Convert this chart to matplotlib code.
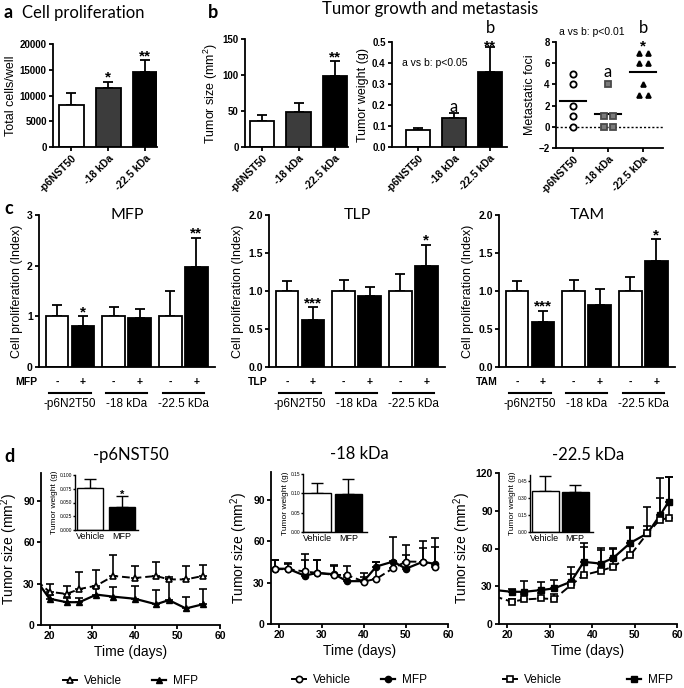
import numpy as np
import matplotlib.pyplot as plt
from matplotlib.transforms import blended_transform_factory
from matplotlib.lines import Line2D

plt.rcParams['font.family'] = ['Liberation Sans', 'DejaVu Sans']
plt.rcParams['mathtext.fontset'] = 'custom'
plt.rcParams['mathtext.rm'] = 'Liberation Sans'
plt.rcParams['mathtext.it'] = 'Liberation Sans:italic'

W, H = 684, 688
TITLE_FONT = ['Lato', 'DejaVu Sans']

# ---- panel a / b data ----
groups_ab = ['-p6NST50', '-18 kDa', '-22.5 kDa']
bar_colors = ['white', '#3c3c3c', 'black']
a_cells = [8100, 11400, 14500]
a_cells_err = [2400, 1300, 2300]
a_stars = ['', '*', '**']

b_size = [36, 48, 99]
b_size_err = [8, 13, 20]
b_weight = [0.08, 0.14, 0.357]
b_weight_err = [0.012, 0.022, 0.12]
foci_ctrl = [0, 1, 2, 4, 5]
foci_18 = [0, 0, 1, 1, 4]
foci_225 = [3, 3, 4, 6, 6, 7, 7]

# ---- panel c data ----
c_groups = ['-p6N2T50', '-18 kDa', '-22.5 kDa']
c_mfp = [1.0, 0.80, 1.0, 0.96, 1.0, 1.98]
c_mfp_err = [0.23, 0.20, 0.18, 0.19, 0.50, 0.57]
c_mfp_stars = ['', '*', '', '', '', '**']
c_tlp = [1.0, 0.62, 1.0, 0.93, 1.0, 1.33]
c_tlp_err = [0.13, 0.17, 0.14, 0.12, 0.23, 0.28]
c_tlp_stars = ['', '***', '', '', '', '*']
c_tam = [1.0, 0.59, 1.0, 0.82, 1.0, 1.40]
c_tam_err = [0.13, 0.15, 0.14, 0.20, 0.18, 0.28]
c_tam_stars = ['', '***', '', '', '', '*']

# ---- panel d data ----
d1_days = [17, 20, 24, 27, 31, 35, 40, 45, 48, 52, 56]
d1_veh = [32, 24, 22.5, 26, 28.5, 35.5, 34, 35.5, 33, 33, 35.5]
d1_veh_err = [0, 6, 6, 12, 11.5, 15.5, 9, 10, 2, 10, 8]
d1_mfp = [32, 19, 16.5, 16.5, 22, 20.5, 19, 15, 18, 12, 15]
d1_mfp_err = [0, 3, 3, 3, 5, 7, 9, 10, 15, 8.5, 11]

d2_days = [19, 22, 26, 29, 33, 36, 40, 43, 47, 50, 54, 57]
d2_veh = [39.7, 39.7, 38, 37, 35.5, 35.5, 30.7, 32.7, 40.4, 45.2, 45, 41.6]
d2_veh_err = [6.5, 4, 8, 9, 6.5, 6.5, 3, 12, 5, 5, 10, 14]
d2_mfp = [40, 40, 35, 37, 36, 31, 31, 41.6, 45.2, 40, 45, 43.5]
d2_mfp_err = [6, 4, 15.5, 9, 7, 3, 6, 3.5, 18, 17, 15, 19]

d3_days = [17, 21, 24, 28, 31, 35, 38, 42, 45, 49, 53, 56, 58]
d3_veh = [22, 17.7, 19.5, 20.3, 19.8, 31, 38.9, 42.3, 45.5, 54.7, 72, 83, 84]
d3_veh_err = [0, 2, 4, 4, 4, 9, 22, 18, 14.5, 22, 6, 17, 33]
d3_mfp = [27, 25.6, 25.6, 27, 28.3, 33.6, 49.4, 48, 52.6, 64.5, 72, 86.4, 97]
d3_mfp_err = [0, 2, 8.5, 6, 6.5, 12, 15, 11, 8, 12, 21, 30, 20]

inset_labels = ['Vehicle', 'MFP']
d1_weight = [0.077, 0.041]
d1_weight_err = [0.015, 0.02]
d2_weight = [0.10, 0.098]
d2_weight_err = [0.027, 0.04]
d3_weight = [0.36, 0.35]
d3_weight_err = [0.13, 0.065]

fig = plt.figure(figsize=(W / 100, H / 100), dpi=100)


def px_axes(x0, y0, x1, y1):
    return fig.add_axes([x0 / W, 1 - y1 / H, (x1 - x0) / W, (y1 - y0) / H])


def style(ax, size=7, lw=1.3, tick=3):
    ax.spines['top'].set_visible(False)
    ax.spines['right'].set_visible(False)
    ax.spines['left'].set_linewidth(lw)
    ax.spines['bottom'].set_linewidth(lw)
    ax.tick_params(direction='out', length=tick, width=lw, labelsize=size, pad=1.5)


def bold_ticks(ax):
    for t in ax.get_xticklabels() + ax.get_yticklabels():
        t.set_fontweight('bold')


def bars(ax, x, vals, errs, colors, width, lw=1.3, cap=3.5):
    ax.bar(x, vals, width=width, color=colors, edgecolor='black', linewidth=lw, zorder=2)
    ax.errorbar(x, vals, yerr=[np.zeros(len(vals)), errs], fmt='none', ecolor='black',
                elinewidth=lw, capsize=cap, capthick=lw, zorder=1)


def ftext(x, y, s, **kw):
    fig.text(x / W, 1 - y / H, s, **kw)


# panel letters and titles
ftext(4, 13, 'a', fontsize=13, fontweight='bold', family=TITLE_FONT, va='center')
ftext(22, 13, 'Cell proliferation', fontsize=12, family=TITLE_FONT, va='center')
ftext(208, 13, 'b', fontsize=13, fontweight='bold', family=TITLE_FONT, va='center')
ftext(430, 9, 'Tumor growth and metastasis', fontsize=12, family=TITLE_FONT,
      va='center', ha='center')
ftext(4, 208, 'c', fontsize=13, fontweight='bold', family=TITLE_FONT, va='center')
ftext(4, 456, 'd', fontsize=13, fontweight='bold', family=TITLE_FONT, va='center')

# ---- a: cell proliferation ----
x3 = np.arange(3)
ax = px_axes(53, 44, 157, 147)
style(ax)
bars(ax, x3, a_cells, a_cells_err, bar_colors, 0.68)
for xi, v, e, s in zip(x3, a_cells, a_cells_err, a_stars):
    ax.text(xi, v + e - 500, s, ha='center', va='bottom', fontsize=11, fontweight='bold')
ax.set_xlim(-0.49, 2.32)
ax.set_ylim(0, 20000)
ax.set_yticks([0, 5000, 10000, 15000, 20000])
ax.set_xticks(x3)
ax.set_xticklabels(groups_ab, rotation=45, ha='right', rotation_mode='anchor', fontsize=7.5)
ax.set_ylabel('Total cells/well', fontsize=9, labelpad=2)
bold_ticks(ax)

# ---- b: tumor size ----
ax = px_axes(245, 39, 348, 147)
style(ax)
bars(ax, x3, b_size, b_size_err, bar_colors, 0.68)
ax.text(2, b_size[2] + b_size_err[2] - 4, '**', ha='center', va='bottom',
        fontsize=11, fontweight='bold')
ax.set_xlim(-0.47, 2.36)
ax.set_ylim(0, 150)
ax.set_yticks([0, 50, 100, 150])
ax.set_xticks(x3)
ax.set_xticklabels(groups_ab, rotation=45, ha='right', rotation_mode='anchor', fontsize=7.5)
ax.set_ylabel('Tumor size (mm$^2$)', fontsize=9, labelpad=2)
bold_ticks(ax)

# ---- b: tumor weight ----
ax = px_axes(392, 42, 507, 147)
style(ax)
bars(ax, x3, b_weight, b_weight_err, bar_colors, 0.66)
ax.text(-0.45, 0.40, 'a vs b: p<0.05', fontsize=7.5, va='center')
ax.text(1, 0.19, 'a', ha='center', va='center', fontsize=12, family=TITLE_FONT)
ax.text(2, 0.565, 'b', ha='center', va='center', fontsize=12, family=TITLE_FONT)
ax.text(2, 0.445, '**', ha='center', va='bottom', fontsize=11, fontweight='bold')
ax.set_xlim(-0.72, 2.47)
ax.set_ylim(0, 0.5)
ax.set_yticks(np.arange(0, 0.51, 0.1))
ax.set_yticklabels(['0.0', '0.1', '0.2', '0.3', '0.4', '0.5'])
ax.set_xticks(x3)
ax.set_xticklabels(groups_ab, rotation=45, ha='right', rotation_mode='anchor', fontsize=7.5)
ax.set_ylabel('Tumor weight (g)', fontsize=9, labelpad=2)
bold_ticks(ax)

# ---- b: metastatic foci ----
ax = px_axes(556, 42, 663, 148)
style(ax)
foci_sets = [(foci_ctrl, 'o', 'white', 'black', 4.5),
             (foci_18, 's', '#7a7a7a', '#4a4a4a', 4.5),
             (foci_225, '^', 'black', 'black', 3.5)]
for i, (vals, mk, fc, ec, ms) in enumerate(foci_sets):
    vals = np.array(vals, dtype=float)
    xs = np.full(len(vals), float(i))
    for v in np.unique(vals):
        idx = np.where(vals == v)[0]
        if len(idx) > 1:
            xs[idx] = i + np.linspace(-0.13, 0.13, len(idx))
    ax.plot(xs, vals, ls='none', marker=mk, mfc=fc, mec=ec, ms=ms, mew=1.3,
            clip_on=False, zorder=3)
    ax.plot([i - 0.38, i + 0.38], [vals.mean()] * 2, color='black', lw=1.5, zorder=2)
ax.axhline(0, color='black', lw=1, ls=(0, (1.5, 1.5)), zorder=1)
ax.text(0.03, 1.09, 'a vs b: p<0.01', transform=ax.transAxes, fontsize=7.5, va='center')
ax.text(1, 5.2, 'a', ha='center', va='center', fontsize=12, family=TITLE_FONT)
ax.text(2, 9.3, 'b', ha='center', va='center', fontsize=12, family=TITLE_FONT)
ax.text(2, 6.9, '*', ha='center', va='bottom', fontsize=11, fontweight='bold')
ax.set_xlim(-0.49, 2.57)
ax.set_ylim(-2, 8)
ax.set_yticks([-2, 0, 2, 4, 6, 8])
ax.set_xticks(x3)
ax.set_xticklabels(groups_ab, rotation=45, ha='right', rotation_mode='anchor', fontsize=7.5)
ax.set_ylabel('Metastatic foci', fontsize=9, labelpad=2)
bold_ticks(ax)

# ---- c: proliferation index with treatments ----
c_pos = np.array([g * 2.18 + k + 0.69 for g in range(3) for k in range(2)])
c_panels = [(39, 'MFP', c_mfp, c_mfp_err, c_mfp_stars, 3, [0, 1, 2, 3], ['0', '1', '2', '3']),
            (269, 'TLP', c_tlp, c_tlp_err, c_tlp_stars, 2, np.arange(0, 2.01, 0.5),
             ['0.0', '0.5', '1.0', '1.5', '2.0']),
            (499, 'TAM', c_tam, c_tam_err, c_tam_stars, 2, np.arange(0, 2.01, 0.5),
             ['0.0', '0.5', '1.0', '1.5', '2.0'])]
for x0, treat, vals, errs, stars, ytop, yt, ytl in c_panels:
    ax = px_axes(x0, 215, x0 + 176, 367)
    style(ax, size=7.5)
    bars(ax, c_pos, vals, errs, ['white', 'black'] * 3, 0.87)
    for xi, v, e, s in zip(c_pos, vals, errs, stars):
        ax.text(xi, v + e - ytop * 0.02, s, ha='center', va='bottom', fontsize=11,
                fontweight='bold')
    ax.set_xlim(0, 176 / 26)
    ax.set_ylim(0, ytop)
    ax.set_yticks(yt)
    ax.set_yticklabels(ytl)
    ax.set_xticks([])
    ax.set_ylabel('Cell proliferation (Index)', fontsize=9, labelpad=3)
    ax.text(0.5, 1.0, treat, transform=ax.transAxes, ha='center', va='center',
            fontsize=11.5, family=TITLE_FONT)
    bold_ticks(ax)
    tr = blended_transform_factory(ax.transData, ax.transAxes)
    ax.text(-0.05, -0.098, treat, transform=tr, ha='right', va='center', fontsize=7.5,
            fontweight='bold')
    for xi, sign in zip(c_pos, ['-', '+'] * 3):
        ax.text(xi, -0.098, sign, transform=tr, ha='center', va='center', fontsize=7.5,
                fontweight='bold')
    for g in range(3):
        left, right = c_pos[2 * g] - 0.3, c_pos[2 * g + 1] + 0.3
        ax.plot([left, right], [-0.172, -0.172], transform=tr, color='black', lw=1.5,
                clip_on=False)
        ax.text((left + right) / 2, -0.245, c_groups[g], transform=tr, ha='center',
                va='center', fontsize=8.5)

# ---- d: tumor growth with MFP ----
d_panels = [
    (41, 473, 220, 625, '-p6NST50', '^', 4.5, d1_days, d1_veh, d1_veh_err, d1_mfp, d1_mfp_err,
     110, [0, 30, 60, 90],
     (75, 475, 138, 530), 0.84, (-0.47, 1.5), d1_weight, d1_weight_err, 0.1,
     [0, 0.025, 0.05, 0.075, 0.1], ['0.000', '0.025', '0.050', '0.075', '0.100'],
     ['', '*'], 2.5),
    (271, 472, 448, 624, '-18 kDa', 'o', 4.5, d2_days, d2_veh, d2_veh_err, d2_mfp, d2_mfp_err,
     110, [0, 30, 60, 90],
     (303, 474, 367, 532), 0.87, (-0.45, 1.6), d2_weight, d2_weight_err, 0.15,
     [0, 0.05, 0.1, 0.15], ['0.00', '0.05', '0.10', '0.15'], ['', ''], 2.5),
    (499, 473, 677, 624, '-22.5 kDa', 's', 5, d3_days, d3_veh, d3_veh_err, d3_mfp, d3_mfp_err,
     120, [0, 30, 60, 90, 120],
     (530, 475, 593, 532), 0.9, (-0.5, 1.6), d3_weight, d3_weight_err, 0.5,
     [0, 0.15, 0.3, 0.45], ['0.00', '0.15', '0.30', '0.45'], ['', ''], 5.5),
]
for (x0, y0, x1, y1, title, mk, ms, days, veh, veh_err, mfp, mfp_err, ytop, yt,
     ibox, iw, ixlim, iv, ie, itop, it, itl, istars, colsp) in d_panels:
    ax = px_axes(x0, y0, x1, y1)
    style(ax, size=7.5)
    z = np.zeros(len(days))
    ax.errorbar(days, veh, yerr=[z, veh_err], fmt='none', ecolor='black', elinewidth=1.2,
                capsize=3, capthick=1.2, zorder=2)
    ax.errorbar(days, mfp, yerr=[z, mfp_err], fmt='none', ecolor='black', elinewidth=1.2,
                capsize=3, capthick=1.2, zorder=2)
    ax.plot(days, mfp, color='black', lw=1.6, marker=mk, ms=ms, mfc='black', mec='black',
            zorder=3)
    ax.plot(days, veh, color='black', lw=1.4, ls=(0, (4, 2)), marker=mk, ms=ms,
            mfc='white', mec='black', mew=1.2, zorder=4)
    ax.set_xlim(18, 60)
    ax.set_ylim(0, ytop)
    ax.set_xticks([20, 30, 40, 50, 60])
    ax.set_yticks(yt)
    ax.set_ylabel('Tumor size (mm$^2$)', fontsize=10, labelpad=2)
    ax.set_xlabel('Time (days)', fontsize=10, labelpad=3)
    ax.text(0.5, 1.0 + 18 / 152, title, transform=ax.transAxes, ha='center', va='center',
            fontsize=12, family=TITLE_FONT)
    bold_ticks(ax)
    handles = [Line2D([], [], color='black', lw=1.4, marker=mk, ms=ms, mfc='white',
                      mec='black', mew=1.2),
               Line2D([], [], color='black', lw=1.6, marker=mk, ms=ms, mfc='black',
                      mec='black')]
    ax.legend(handles, ['Vehicle', 'MFP'], loc='center', bbox_to_anchor=(0.5, -0.37),
              ncol=2, frameon=False, fontsize=8.5, handlelength=1.2, handletextpad=0.6,
              columnspacing=colsp)

    ia = px_axes(*ibox)
    style(ia, size=3.5, lw=1.0, tick=1.5)
    bars(ia, [0, 1], iv, ie, ['white', 'black'], iw, lw=1.0, cap=4)
    for xi, v, e, s in zip([0, 1], iv, ie, istars):
        ia.text(xi, v + e - itop * 0.06, s, ha='center', va='bottom', fontsize=8,
                fontweight='bold')
    ia.set_xlim(*ixlim)
    ia.set_ylim(0, itop)
    ia.set_yticks(it)
    ia.set_yticklabels(itl)
    ia.set_xticks([0, 1])
    ia.set_xticklabels(inset_labels)
    ia.tick_params(axis='x', length=0, labelsize=6.5, pad=1.5)
    ia.tick_params(axis='y', pad=0.5)
    ia.set_ylabel('Tumor weight (g)', fontsize=6, labelpad=1)

fig.savefig('out.png', dpi=100)
